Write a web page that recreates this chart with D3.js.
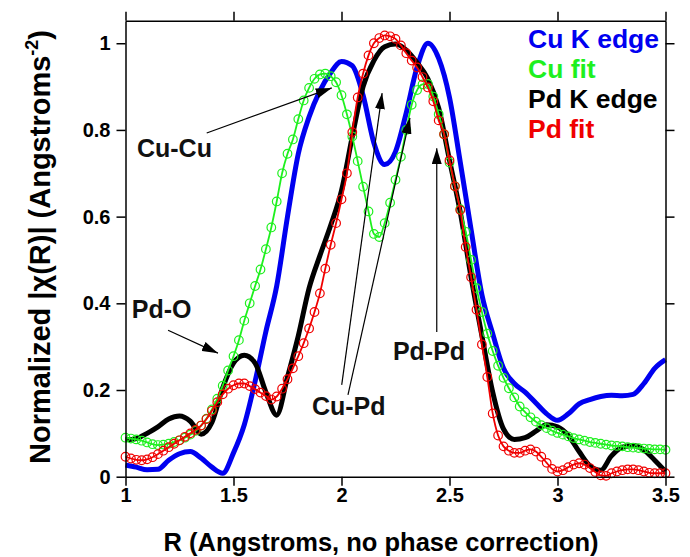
<!DOCTYPE html>
<html>
<head>
<meta charset="utf-8">
<script src="https://cdn.jsdelivr.net/npm/d3@7"></script>
<style>
  body { margin: 0; background: #fff; }
  svg text { font-family: "Liberation Sans", Arial, Helvetica, sans-serif; font-weight: bold; }
</style>
</head>
<body>
<svg id="svgID" width="690" height="557"></svg>
<script>
// data, R in Angstroms
var dataStart = 1.0;
var dataStep = 0.05;   // measured curves
var fitStep = 0.025;   // fits (markers at every point)

var cuEdge = [0.027, 0.022, 0.016, 0.017, 0.038, 0.053, 0.058, 0.043, 0.022, 0.008,
  0.055, 0.120, 0.220, 0.335, 0.440, 0.600, 0.745, 0.830, 0.890, 0.932,
  0.958, 0.948, 0.880, 0.770, 0.720, 0.750, 0.840, 0.945, 1.000, 0.965,
  0.875, 0.725, 0.570, 0.420, 0.330, 0.250, 0.215, 0.195, 0.170, 0.145,
  0.130, 0.145, 0.168, 0.178, 0.185, 0.188, 0.187, 0.190, 0.215, 0.250, 0.270];

var pdEdge = [0.085, 0.088, 0.100, 0.115, 0.133, 0.140, 0.128, 0.098, 0.125, 0.205,
  0.262, 0.280, 0.262, 0.195, 0.142, 0.230, 0.325, 0.435, 0.510, 0.580,
  0.660, 0.785, 0.900, 0.960, 0.992, 0.998, 0.984, 0.955, 0.918, 0.850,
  0.730, 0.610, 0.460, 0.325, 0.195, 0.110, 0.086, 0.090, 0.105, 0.120,
  0.115, 0.095, 0.058, 0.025, 0.015, 0.048, 0.068, 0.072, 0.062, 0.038, 0.012];

var cuFit = [0.090, 0.088, 0.086, 0.083, 0.079, 0.075, 0.073, 0.074, 0.076, 0.080,
  0.084, 0.090, 0.097, 0.106, 0.118, 0.134, 0.155, 0.180, 0.210, 0.245,
  0.278, 0.315, 0.360, 0.400, 0.440, 0.478, 0.525, 0.575, 0.635, 0.700,
  0.745, 0.778, 0.825, 0.868, 0.897, 0.918, 0.928, 0.930, 0.924, 0.910,
  0.880, 0.836, 0.785, 0.728, 0.669, 0.612, 0.560, 0.553, 0.585, 0.632,
  0.685, 0.738, 0.800, 0.858, 0.892, 0.905, 0.906, 0.877, 0.836, 0.790,
  0.725, 0.670, 0.617, 0.565, 0.500, 0.435, 0.380, 0.330, 0.290, 0.256,
  0.228, 0.204, 0.183, 0.162, 0.149, 0.137, 0.127, 0.119, 0.112, 0.106,
  0.101, 0.097, 0.093, 0.089, 0.086, 0.083, 0.080, 0.078, 0.076, 0.074,
  0.072, 0.071, 0.070, 0.068, 0.067, 0.066, 0.065, 0.064, 0.063, 0.063, 0.062];

var pdFit = [0.046, 0.042, 0.039, 0.038, 0.040, 0.045, 0.052, 0.060, 0.068, 0.076,
  0.084, 0.092, 0.100, 0.108, 0.118, 0.133, 0.152, 0.172, 0.190, 0.203,
  0.211, 0.215, 0.215, 0.209, 0.202, 0.194, 0.186, 0.178, 0.185, 0.203,
  0.225, 0.250, 0.278, 0.308, 0.342, 0.380, 0.423, 0.480, 0.535, 0.585,
  0.640, 0.700, 0.795, 0.875, 0.930, 0.972, 1.000, 1.012, 1.018, 1.016,
  1.010, 0.995, 0.977, 0.960, 0.944, 0.922, 0.898, 0.866, 0.822, 0.790,
  0.730, 0.670, 0.615, 0.530, 0.460, 0.385, 0.305, 0.230, 0.146, 0.095,
  0.070, 0.060, 0.055, 0.055, 0.060, 0.063, 0.058, 0.046, 0.032, 0.018,
  0.012, 0.015, 0.022, 0.028, 0.031, 0.028, 0.020, 0.011, 0.003, 0.002,
  0.008, 0.012, 0.015, 0.017, 0.017, 0.015, 0.012, 0.009, 0.008, 0.008, 0.008];

var xTicks = [1, 1.5, 2, 2.5, 3, 3.5];
var xTickLabels = ["1", "1.5", "2", "2.5", "3", "3.5"];
var yTicks = [0, 0.2, 0.4, 0.6, 0.8, 1];
var yTickLabels = ["0", "0.2", "0.4", "0.6", "0.8", "1"];

var legendNames = ["Cu K edge", "Cu fit", "Pd K edge", "Pd fit"];
var legendColors = ["#0000f0", "#1ef01e", "#000000", "#f00000"];

// annotations in data units: label anchor + arrows (from -> to)
var annotations = [
  {text: "Cu-Cu", r: 1.053, y: 0.738, arrows: [[1.376, 0.793, 1.955, 0.897]]},
  {text: "Pd-O", r: 1.029, y: 0.366, arrows: [[1.197, 0.338, 1.428, 0.285]]},
  {text: "Cu-Pd", r: 1.863, y: 0.142, arrows: [[2.001, 0.212, 2.188, 0.885], [2.030, 0.189, 2.317, 0.828]]},
  {text: "Pd-Pd", r: 2.238, y: 0.269, arrows: [[2.441, 0.334, 2.441, 0.758]]}
];

var margin = {top: 20.7, right: 24.5, bottom: 80.3, left: 125.5};
var svg = d3.select("#svgID");
var width = 690 - margin.left - margin.right,
    height = 557 - margin.top - margin.bottom;

var xScale = d3.scaleLinear().domain([1, 3.5]).range([margin.left, margin.left + width]);
var yScale = d3.scaleLinear().domain([0, 1.052]).range([margin.top + height, margin.top]);

function toPoints(vals, step) {
  return vals.map(function(v, i) { return {r: dataStart + i * step, v: v}; });
}

var line = d3.line()
  .x(function(d) { return xScale(d.r); })
  .y(function(d) { return yScale(d.v); })
  .curve(d3.curveMonotoneX);

var g = svg.append("g");

// measured curves, thick
g.append("path").datum(toPoints(cuEdge, dataStep))
  .attr("d", line).attr("fill", "none")
  .attr("stroke", legendColors[0]).attr("stroke-width", 5);
g.append("path").datum(toPoints(pdEdge, dataStep))
  .attr("d", line).attr("fill", "none")
  .attr("stroke", legendColors[2]).attr("stroke-width", 5);

// fits, thin lines with open circles
[[cuFit, legendColors[1]], [pdFit, legendColors[3]]].forEach(function(s) {
  var pts = toPoints(s[0], fitStep);
  g.append("path").datum(pts)
    .attr("d", line).attr("fill", "none")
    .attr("stroke", s[1]).attr("stroke-width", 1.8);
  g.selectAll(null).data(pts).enter()
    .append("circle")
      .attr("cx", function(d) { return xScale(d.r); })
      .attr("cy", function(d) { return yScale(d.v); })
      .attr("r", 4.3)
      .attr("fill", "none")
      .attr("stroke", s[1])
      .attr("stroke-width", 1.2);
});

// axes on all four sides, ticks outward
function styleAxis(sel) {
  sel.selectAll("path, line").attr("stroke", "#000").attr("stroke-width", 1.5);
  sel.selectAll("text").attr("font-size", 20).attr("fill", "#000")
    .style("font-family", "'Liberation Sans', Arial, sans-serif").style("font-weight", "bold");
}

svg.append("g")
  .attr("transform", "translate(0," + (margin.top + height) + ")")
  .call(d3.axisBottom(xScale).tickValues(xTicks).tickSize(9).tickSizeOuter(0).tickPadding(2)
    .tickFormat(function(d, i) { return xTickLabels[i]; }))
  .call(styleAxis);

svg.append("g")
  .attr("transform", "translate(0," + margin.top + ")")
  .call(d3.axisTop(xScale).tickValues(xTicks).tickSize(9).tickSizeOuter(0).tickFormat(""))
  .call(styleAxis);

svg.append("g")
  .attr("transform", "translate(" + margin.left + ",0)")
  .call(d3.axisLeft(yScale).tickValues(yTicks).tickSize(9).tickSizeOuter(0).tickPadding(6)
    .tickFormat(function(d, i) { return yTickLabels[i]; }))
  .call(styleAxis);

svg.append("g")
  .attr("transform", "translate(" + (margin.left + width) + ",0)")
  .call(d3.axisRight(yScale).tickValues(yTicks).tickSize(9).tickSizeOuter(0).tickFormat(""))
  .call(styleAxis);

// axis titles
svg.append("text")
  .attr("x", 381).attr("y", 551)
  .attr("text-anchor", "middle")
  .attr("font-size", 25.5)
  .text("R (Angstroms, no phase correction)");

var yTitle = svg.append("text")
  .attr("transform", "translate(50," + 247 + ") rotate(-90)")
  .attr("text-anchor", "middle")
  .attr("font-size", 29);
yTitle.append("tspan").text("Normalized |\u03c7(R)| (Angstroms");
yTitle.append("tspan").attr("dy", -12).attr("font-size", 18).text("-2");
yTitle.append("tspan").attr("dy", 12).text(")");

// legend
svg.append("g").selectAll("text")
  .data(legendNames)
  .enter()
  .append("text")
    .attr("x", 528)
    .attr("y", function(d, i) { return 48 + i * 30; })
    .attr("font-size", 26.5)
    .attr("fill", function(d, i) { return legendColors[i]; })
    .text(function(d) { return d; });

// annotations with arrows
svg.append("defs").append("marker")
  .attr("id", "head")
  .attr("viewBox", "0 0 16 10")
  .attr("refX", 16).attr("refY", 5)
  .attr("markerWidth", 16).attr("markerHeight", 10)
  .attr("markerUnits", "userSpaceOnUse")
  .attr("orient", "auto")
  .append("path").attr("d", "M0,0 L16,5 L0,10 Z").attr("fill", "#000");

var ann = svg.append("g");
annotations.forEach(function(a) {
  ann.append("text")
    .attr("x", xScale(a.r)).attr("y", yScale(a.y))
    .attr("font-size", 25)
    .attr("fill", "#111")
    .text(a.text);
  a.arrows.forEach(function(ar) {
    ann.append("line")
      .attr("x1", xScale(ar[0])).attr("y1", yScale(ar[1]))
      .attr("x2", xScale(ar[2])).attr("y2", yScale(ar[3]))
      .attr("stroke", "#000").attr("stroke-width", 1.2)
      .attr("marker-end", "url(#head)");
  });
});
</script>
</body>
</html>
